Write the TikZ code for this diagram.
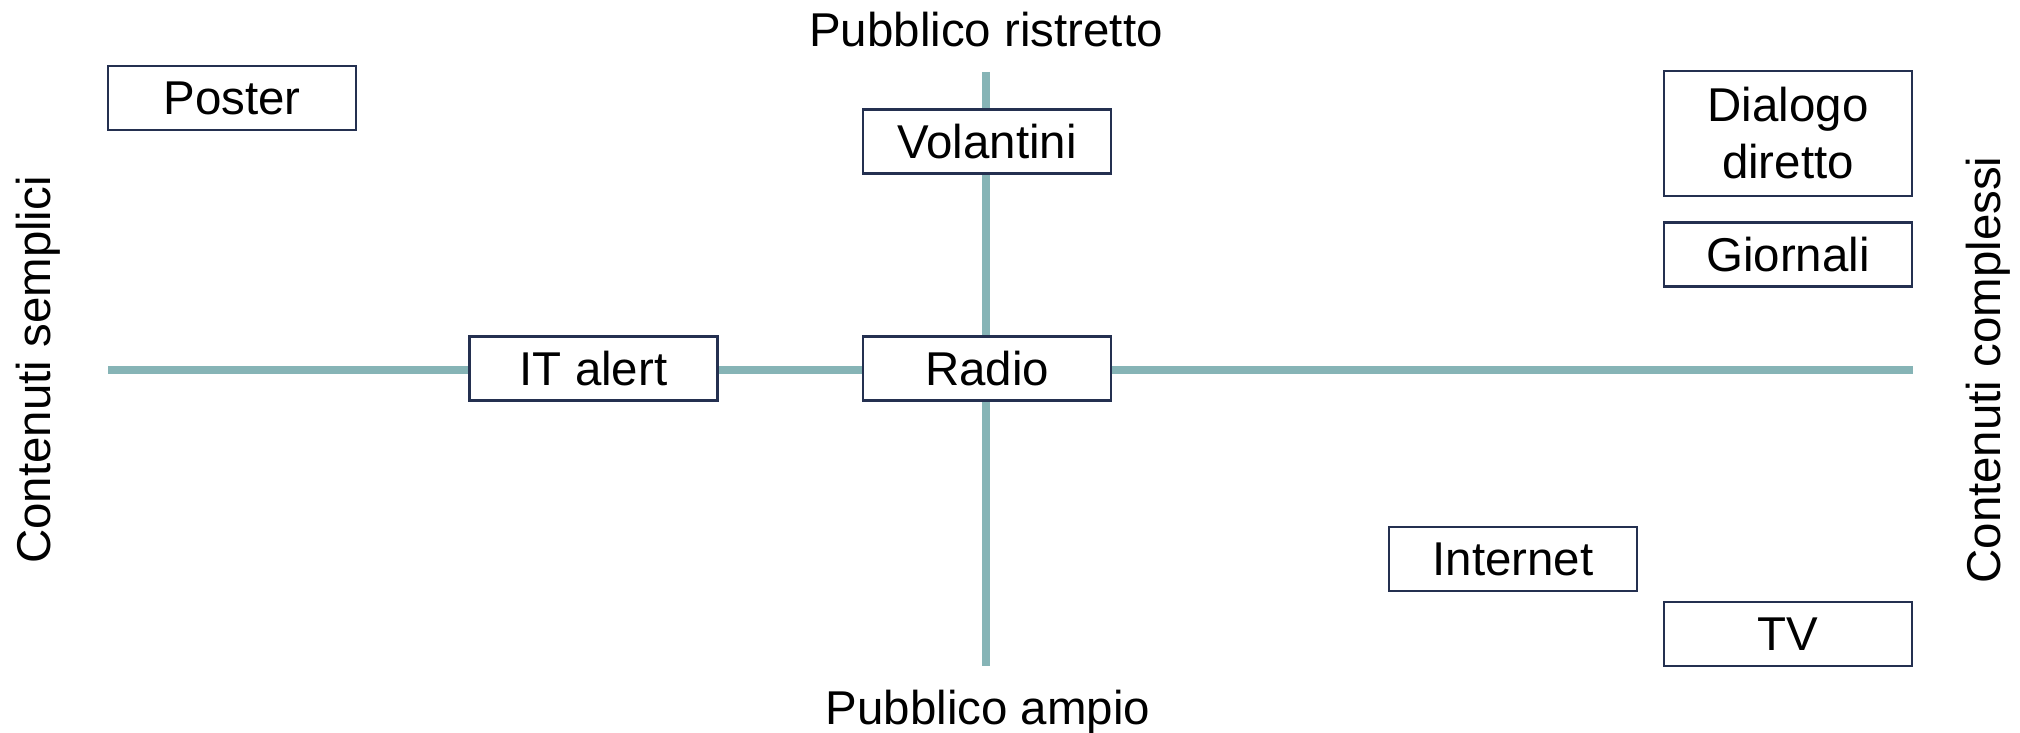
\documentclass[tikz,border=0pt]{standalone}
\usepackage{fontspec}
\setmainfont{Liberation Sans}
\usepackage{tikz}
\usetikzlibrary{calc}

\definecolor{asse}{RGB}{134,180,182}
\definecolor{bordo}{RGB}{36,48,80}

\tikzset{
    canale/.style={draw=bordo,line width=0.7pt,fill=white,minimum width=2.48cm,
        minimum height=0.64cm,inner sep=0pt,align=center},
    etichetta/.style={inner sep=0pt,anchor=base}
}

\begin{document}
\begin{tikzpicture}\fontsize{13.5}{16.2}\selectfont
            \useasboundingbox (0,0) rectangle (20.2,7.33);

            \coordinate (sx) at (1.08,3.63);
            \coordinate (dx) at (19.13,3.63);
            \coordinate (su) at (9.86,6.61);
            \coordinate (giu) at (9.86,0.67);

            \draw[asse,line width=2pt] (sx) -- (dx);
            \draw[asse,line width=2pt] (su) -- (giu);

            \node[etichetta] (ristretto) at (9.86,6.86) {Pubblico ristretto};
            \node[etichetta] (ampio) at (9.88,0.08) {Pubblico ampio};
            \node[etichetta,rotate=90] (semplici) at (0.51,3.63) {Contenuti semplici};
            \node[etichetta,rotate=90] (complessi) at (20.0,3.63) {Contenuti complessi};

            \node[canale] (poster) at (2.32,6.35) {Poster};
            \node[canale] (volantini) at (9.87,5.915) {Volantini};
            \node[canale] (italert) at (5.935,3.645) {IT alert};
            \node[canale] (radio) at (9.87,3.645) {Radio};
            \node[canale,minimum height=1.25cm] (dialogo) at (17.88,5.995) {Dialogo\\diretto};
            \node[canale] (giornali) at (17.88,4.785) {Giornali};
            \node[canale] (internet) at (15.13,1.74) {Internet};
            \node[canale] (tv) at (17.88,0.99) {TV};

        \end{tikzpicture}
\end{document}
